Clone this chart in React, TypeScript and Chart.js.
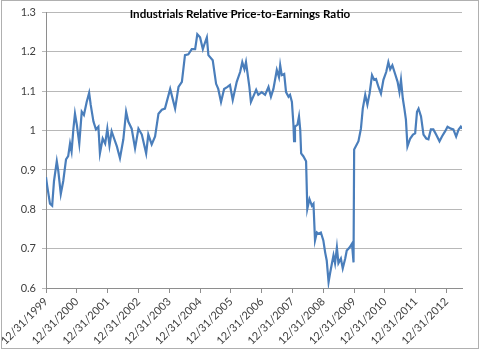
import { useEffect, useRef } from 'react';
import { Chart, registerables } from 'chart.js';

Chart.register(...registerables);

const TITLE = 'Industrials Relative Price-to-Earnings Ratio';

// x positions in decimal years (2000.0 = 12/31/1999)
const dates = [
  2000.0, 2000.04, 2000.13, 2000.2, 2000.26, 2000.35, 2000.4, 2000.48, 2000.56, 2000.65,
  2000.72, 2000.78, 2000.83, 2000.89, 2000.94, 2001.0, 2001.08, 2001.16, 2001.23, 2001.32,
  2001.4, 2001.45, 2001.54, 2001.62, 2001.7, 2001.75, 2001.84, 2001.92, 2001.99, 2002.06,
  2002.13, 2002.21, 2002.3, 2002.4, 2002.51, 2002.6, 2002.67, 2002.78, 2002.89, 2003.0,
  2003.11, 2003.25, 2003.32, 2003.43, 2003.54, 2003.65, 2003.76, 2003.86, 2004.03, 2004.19,
  2004.3, 2004.41, 2004.51, 2004.62, 2004.73, 2004.84, 2004.91, 2005.0, 2005.09, 2005.13,
  2005.22, 2005.27, 2005.41, 2005.52, 2005.59, 2005.68, 2005.78, 2005.89, 2005.97, 2006.06,
  2006.19, 2006.3, 2006.37, 2006.44, 2006.49, 2006.6, 2006.65, 2006.75, 2006.82, 2006.89,
  2007.0, 2007.11, 2007.22, 2007.3, 2007.38, 2007.49, 2007.56, 2007.6, 2007.65, 2007.73,
  2007.79, 2007.87, 2007.92, 2007.98, 2008.03, 2008.05, 2008.08, 2008.16, 2008.21, 2008.25,
  2008.28, 2008.35, 2008.44, 2008.48, 2008.55, 2008.63, 2008.68, 2008.73, 2008.79, 2008.84,
  2008.92, 2009.0, 2009.06, 2009.11, 2009.17, 2009.22, 2009.28, 2009.33, 2009.38, 2009.44,
  2009.49, 2009.57, 2009.63, 2009.71, 2009.76, 2009.85, 2009.93, 2009.98, 2010.0, 2010.14,
  2010.22, 2010.28, 2010.36, 2010.43, 2010.5, 2010.58, 2010.65, 2010.71, 2010.79, 2010.87,
  2010.95, 2011.04, 2011.11, 2011.17, 2011.24, 2011.33, 2011.41, 2011.47, 2011.52, 2011.58,
  2011.63, 2011.68, 2011.73, 2011.82, 2011.91, 2011.98, 2012.04, 2012.09, 2012.17, 2012.25,
  2012.34, 2012.41, 2012.49, 2012.57, 2012.66, 2012.77, 2012.85, 2012.95, 2013.03, 2013.14,
  2013.22, 2013.31, 2013.39, 2013.46, 2013.5,
];

const ratio = [
  0.882, 0.859, 0.814, 0.809, 0.872, 0.922, 0.897, 0.839, 0.872, 0.927,
  0.935, 0.967, 0.947, 1.005, 1.043, 1.015, 0.967, 1.048, 1.04, 1.073,
  1.096, 1.066, 1.023, 1.003, 1.01, 0.942, 0.98, 0.967, 1.005, 0.962,
  0.998, 0.98, 0.96, 0.93, 0.978, 1.048, 1.023, 1.005, 0.955, 1.005,
  0.99, 0.942, 0.99, 0.965, 0.985, 1.043, 1.053, 1.056, 1.106, 1.056,
  1.111, 1.124, 1.192, 1.194, 1.207, 1.207, 1.245, 1.237, 1.207, 1.217,
  1.237, 1.192, 1.179, 1.119, 1.106, 1.073, 1.106, 1.111, 1.116, 1.078,
  1.124, 1.149, 1.174, 1.156, 1.174, 1.111, 1.073, 1.091, 1.104, 1.091,
  1.098, 1.091, 1.111, 1.086, 1.106, 1.154, 1.136, 1.166, 1.141, 1.144,
  1.098, 1.086, 1.091, 1.073, 1.015, 0.973, 1.01, 1.015, 1.036, 1.003,
  0.942, 0.935, 0.922, 0.801, 0.826, 0.809, 0.814, 0.721, 0.741, 0.738,
  0.741, 0.721, 0.69, 0.67, 0.615, 0.638, 0.663, 0.683, 0.663, 0.703,
  0.663, 0.675, 0.65, 0.675, 0.695, 0.703, 0.713, 0.665, 0.952, 0.973,
  1.005, 1.056, 1.091, 1.066, 1.094, 1.141, 1.129, 1.131, 1.111, 1.094,
  1.129, 1.149, 1.174, 1.156, 1.166, 1.144, 1.124, 1.098, 1.129, 1.081,
  1.056, 1.028, 0.96, 0.98, 0.99, 0.993, 1.048, 1.056, 1.036, 0.99,
  0.98, 0.978, 1.003, 1.003, 0.99, 0.973, 0.985, 0.998, 1.01, 1.005,
  1.003, 0.985, 1.003, 1.01, 1.005,
];

const tickYears = [2000, 2001, 2002, 2003, 2004, 2005, 2006, 2007, 2008, 2009, 2010, 2011, 2012, 2013];
const tickLabels = [
  '12/31/1999', '12/31/2000', '12/31/2001', '12/31/2002', '12/31/2003', '12/31/2004', '12/31/2005',
  '12/31/2006', '12/31/2007', '12/31/2008', '12/31/2009', '12/31/2010', '12/31/2011', '12/31/2012',
];

const Y_MIN = 0.6;
const Y_MAX = 1.3;
const Y_STEP = 0.1;

export default function App() {
  const ref = useRef<HTMLCanvasElement>(null);

  useEffect(() => {
    if (!ref.current) return;
    const titlePlugin = {
      id: 'overlayTitle',
      afterDraw(chart: any) {
        const ctx = chart.ctx;
        ctx.save();
        ctx.font = 'bold 11.6px Lato';
        ctx.fillStyle = '#000000';
        ctx.textAlign = 'center';
        ctx.textBaseline = 'middle';
        ctx.fillText(TITLE, chart.width / 2, 14);
        ctx.restore();
      },
    };
    const chart = new Chart(ref.current, {
      type: 'line',
      data: {
        datasets: [
          {
            data: dates.map((d, i) => ({ x: d, y: ratio[i] })),
            borderColor: '#4a7ebb',
            borderWidth: 2.2,
            pointRadius: 0,
            tension: 0,
            fill: false,
          },
        ],
      },
      options: {
        animation: false,
        responsive: false,
        layout: { padding: { left: 0, top: 10, right: 18, bottom: 0 } },
        plugins: {
          legend: { display: false },
          tooltip: { enabled: false },
          title: { display: false },
        },
        scales: {
          x: {
            type: 'linear',
            min: 2000,
            max: 2013.5,
            afterBuildTicks: (scale: any) => {
              scale.ticks = tickYears.map((v) => ({ value: v }));
            },
            afterFit: (scale: any) => {
              scale.height = 61;
            },
            grid: {
              drawOnChartArea: false,
              drawTicks: true,
              tickLength: 5,
              color: '#8e8e8e',
            },
            border: { display: true, color: '#8e8e8e' },
            ticks: {
              autoSkip: false,
              maxRotation: 45,
              minRotation: 45,
              padding: 2,
              color: '#404040',
              font: { family: 'Lato', size: 11 },
              callback: (_v: any, i: number) => tickLabels[i] ?? '',
            },
          },
          y: {
            min: Y_MIN,
            max: Y_MAX,
            afterFit: (scale: any) => {
              scale.width = 46;
            },
            grid: {
              color: '#b8b8b8',
              tickLength: 4,
              drawTicks: true,
            },
            border: { display: true, color: '#8e8e8e' },
            ticks: {
              stepSize: Y_STEP,
              padding: 6,
              color: '#404040',
              font: { family: 'Lato', size: 11 },
              callback: (v: any) => String(Math.round(Number(v) * 10) / 10),
            },
          },
        },
      },
      plugins: [titlePlugin],
    });
    return () => chart.destroy();
  }, []);

  return (
    <div style={{ position: 'absolute', left: 0, top: 0, width: 480, height: 349, background: '#ffffff' }}>
      <canvas ref={ref} width={480} height={349} style={{ position: 'absolute', left: 0, top: 0 }} />
      <div
        style={{
          position: 'absolute',
          left: 1,
          top: 0,
          width: 478,
          height: 349,
          boxSizing: 'border-box',
          border: '1px solid #b0b0b0',
          pointerEvents: 'none',
        }}
      />
    </div>
  );
}
